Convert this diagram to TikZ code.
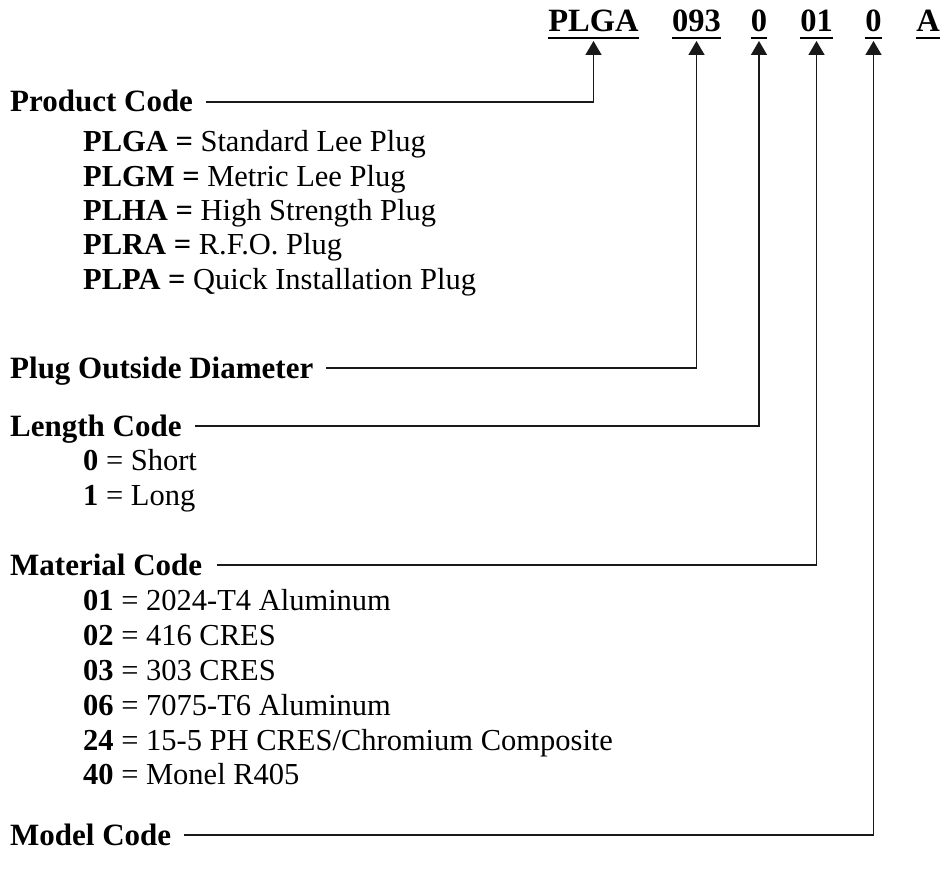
\documentclass[tikz,border=0pt]{standalone}
\usepackage{fontspec}
\setmainfont{Liberation Serif}
\usetikzlibrary{arrows.meta}

\begin{document}
\begin{tikzpicture}[
  x=1pt, y=-1pt,
  font=\fontsize{30.5}{35}\selectfont,
  every node/.style={inner sep=0pt, anchor=base west},
  head/.style={font=\fontsize{32.5}{37}\selectfont\bfseries, anchor=base},
  title/.style={font=\fontsize{31}{35}\selectfont\bfseries},
  uline/.style={line width=1.6pt},
  arrow/.style={-{Triangle[length=14pt, width=16pt]}, line width=1.6pt, color=black!90},
]
  \useasboundingbox (0,0) rectangle (940,877);

  % part number
  \node[head] (prod)  at (593.5,32) {PLGA};
  \node[head] (diam)  at (696.5,32) {093};
  \node[head] (len)   at (759,32)   {0};
  \node[head] (mat)   at (816.5,32) {01};
  \node[head] (model) at (873.5,32) {0};
  \node[head] (rev)   at (928,32)   {A};
  \foreach \n in {prod,diam,len,mat,model,rev}
    \draw[uline] ([yshift=-6pt]\n.base west) -- ([yshift=-6pt]\n.base east);

  % product code
  \node[title] (prodlbl) at (10,112) {Product Code};
  \node (plga) at (83,152) {\textbf{PLGA =} Standard Lee Plug};
  \node (plgm) at (83,187) {\textbf{PLGM =} Metric Lee Plug};
  \node (plha) at (83,221) {\textbf{PLHA =} High Strength Plug};
  \node (plra) at (83,255) {\textbf{PLRA =} R.F.O. Plug};
  \node (plpa) at (83,290) {\textbf{PLPA =} Quick Installation Plug};

  % diameter and length
  \node[title] (diamlbl) at (10,378) {Plug Outside Diameter};
  \node[title] (lenlbl) at (10,436) {Length Code};
  \node (short) at (83,470) {\textbf{0} = Short};
  \node (long)  at (83,505) {\textbf{1} = Long};

  % material
  \node[title] (matlbl) at (10,575) {Material Code};
  \node (m01) at (83,610) {\textbf{01} = 2024-T4 Aluminum};
  \node (m02) at (83,645) {\textbf{02} = 416 CRES};
  \node (m03) at (83,680) {\textbf{03} = 303 CRES};
  \node (m06) at (83,715) {\textbf{06} = 7075-T6 Aluminum};
  \node (m24) at (83,750) {\textbf{24} = 15-5 PH CRES/Chromium Composite};
  \node (m40) at (83,784) {\textbf{40} = Monel R405};

  \node[title] (modellbl) at (10,845) {Model Code};

  \draw[arrow] ([xshift=13pt,yshift=10pt]prodlbl.base east) -| ([yshift=-9pt]prod.base);
  \draw[arrow] ([xshift=13pt,yshift=10pt]diamlbl.base east) -| ([yshift=-9pt]diam.base);
  \draw[arrow] ([xshift=13pt,yshift=10pt]lenlbl.base east) -| ([yshift=-9pt]len.base);
  \draw[arrow] ([xshift=15pt,yshift=10pt]matlbl.base east) -| ([yshift=-9pt]mat.base);
  \draw[arrow] ([xshift=13pt,yshift=10pt]modellbl.base east) -| ([yshift=-9pt]model.base);
\end{tikzpicture}
\end{document}
